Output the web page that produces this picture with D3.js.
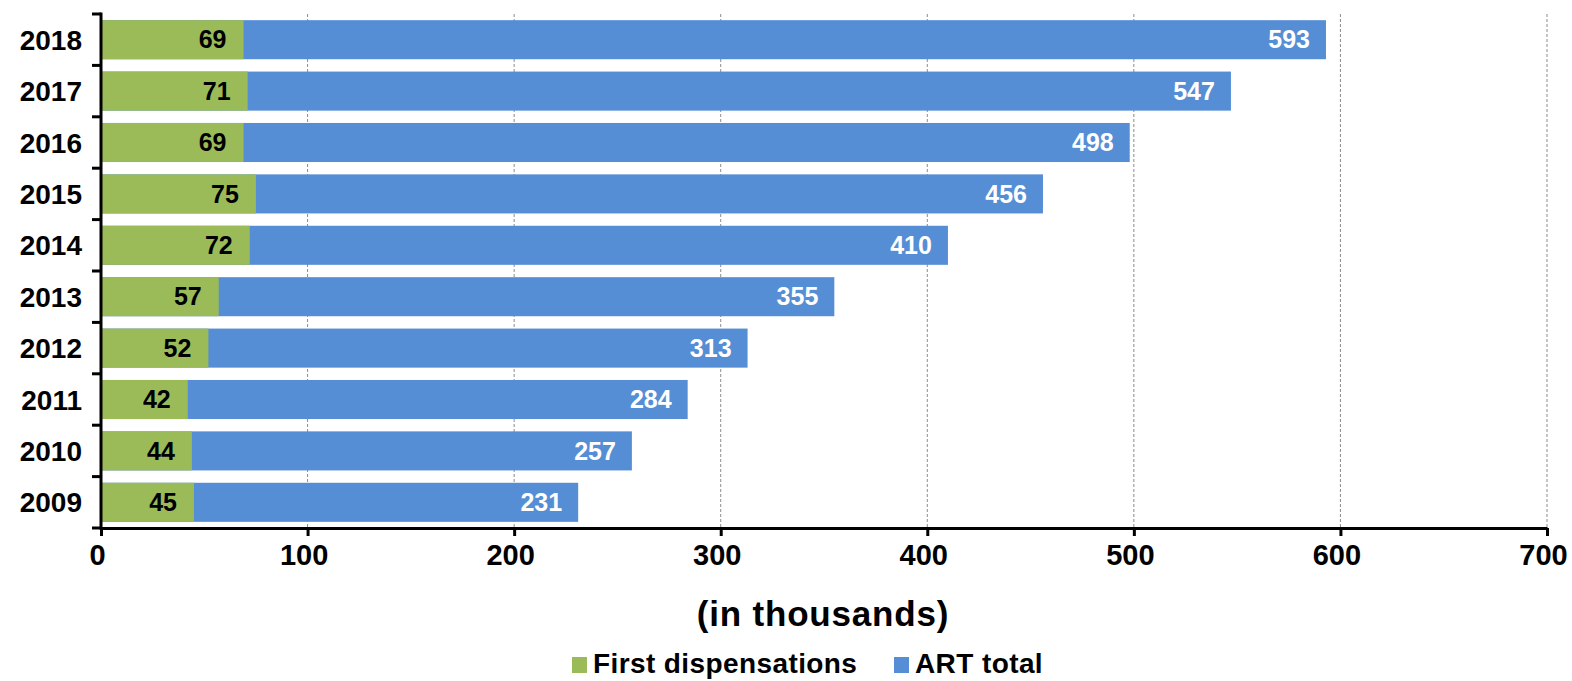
<!DOCTYPE html>
<html>
<head>
<meta charset="utf-8">
<script src="https://cdn.jsdelivr.net/npm/d3@7"></script>
<style>
  html, body { margin: 0; padding: 0; background: #fff; }
  svg { display: block; font-family: "Liberation Sans", Arial, sans-serif; font-weight: bold; }
</style>
</head>
<body>
<svg id="chart" width="1572" height="681"></svg>
<script>
// Antiretroviral therapy dispensations per year (thousands)
const years = ["2018", "2017", "2016", "2015", "2014", "2013", "2012", "2011", "2010", "2009"];
const firstDispensations = [69, 71, 69, 75, 72, 57, 52, 42, 44, 45];
const artTotal = [593, 547, 498, 456, 410, 355, 313, 284, 257, 231];
const xTicks = [0, 100, 200, 300, 400, 500, 600, 700];
const seriesNames = ["First dispensations", "ART total"];
const colors = { first: "#9BBB59", total: "#558ED5" };

const svg = d3.select("#chart");
const plotLeft = 101, plotRight = 1547, plotTop = 14, plotBottom = 528;

const x = d3.scaleLinear().domain([0, 700]).range([plotLeft, plotRight]);
const y = d3.scaleBand().domain(years).range([plotTop, plotBottom]).paddingInner(0.24).paddingOuter(0.12);
const yEdges = d3.scaleBand().domain(years).range([plotTop, plotBottom]);

// dashed vertical gridlines
svg.append("g")
  .selectAll("line")
  .data(xTicks.filter(d => d > 0))
  .join("line")
  .attr("x1", d => x(d)).attr("x2", d => x(d))
  .attr("y1", plotTop).attr("y2", plotBottom)
  .attr("stroke", "#8c8c8c")
  .attr("stroke-width", 1)
  .attr("stroke-dasharray", "3,2");

const rows = years.map((yr, i) => ({ yr, first: firstDispensations[i], total: artTotal[i] }));

// total bars, with first dispensations overlaid from zero
svg.append("g").selectAll("rect")
  .data(rows).join("rect")
  .attr("x", x(0)).attr("y", d => y(d.yr))
  .attr("width", d => x(d.total) - x(0))
  .attr("height", y.bandwidth())
  .attr("fill", colors.total);

svg.append("g").selectAll("rect")
  .data(rows).join("rect")
  .attr("x", x(0)).attr("y", d => y(d.yr))
  .attr("width", d => x(d.first) - x(0))
  .attr("height", y.bandwidth())
  .attr("fill", colors.first);

// value labels
svg.append("g").selectAll("text")
  .data(rows).join("text")
  .attr("x", d => x(d.total) - 16)
  .attr("y", d => y(d.yr) + y.bandwidth() / 2)
  .attr("dy", "0.35em")
  .attr("text-anchor", "end")
  .attr("fill", "#fff")
  .attr("font-size", 25)
  .text(d => d.total);

svg.append("g").selectAll("text")
  .data(rows).join("text")
  .attr("x", d => x(d.first) - 17)
  .attr("y", d => y(d.yr) + y.bandwidth() / 2)
  .attr("dy", "0.35em")
  .attr("text-anchor", "end")
  .attr("fill", "#000")
  .attr("font-size", 25)
  .text(d => d.first);

// y axis: line, boundary ticks, year labels
const yAxis = svg.append("g");
yAxis.append("line")
  .attr("x1", plotLeft).attr("x2", plotLeft)
  .attr("y1", plotTop - 1.5).attr("y2", plotBottom + 1.5)
  .attr("stroke", "#000").attr("stroke-width", 3);
const edges = years.map(yr => yEdges(yr)).concat([plotBottom]);
yAxis.selectAll("line.tick")
  .data(edges).join("line")
  .attr("class", "tick")
  .attr("x1", plotLeft - 9).attr("x2", plotLeft)
  .attr("y1", d => d).attr("y2", d => d)
  .attr("stroke", "#000").attr("stroke-width", 3);
yAxis.selectAll("text")
  .data(years).join("text")
  .attr("x", 82)
  .attr("y", d => yEdges(d) + yEdges.bandwidth() / 2)
  .attr("dy", "0.36em")
  .attr("text-anchor", "end")
  .attr("font-size", 28)
  .attr("fill", "#000")
  .text(d => d);

// x axis
const xAxis = svg.append("g").attr("transform", `translate(0,${plotBottom})`)
  .call(d3.axisBottom(x).tickValues(xTicks).tickSize(8).tickPadding(8).tickSizeOuter(0));
xAxis.select(".domain").attr("stroke", "#000").attr("stroke-width", 3);
xAxis.selectAll(".tick line").attr("stroke", "#000").attr("stroke-width", 3);
xAxis.selectAll(".tick text")
  .attr("font-family", "Liberation Sans, Arial, sans-serif")
  .attr("font-weight", "bold")
  .attr("font-size", 29)
  .attr("fill", "#000")
  .attr("dx", "-4");

// axis title
svg.append("text")
  .attr("x", 823).attr("y", 626)
  .attr("text-anchor", "middle")
  .attr("font-size", 35)
  .attr("letter-spacing", 0.8)
  .attr("fill", "#000")
  .text("(in thousands)");

// legend
const legendItems = [
  { name: seriesNames[0], color: colors.first, x: 572 },
  { name: seriesNames[1], color: colors.total, x: 894 }
];
const legend = svg.append("g").selectAll("g").data(legendItems).join("g");
legend.append("rect")
  .attr("x", d => d.x).attr("y", 657)
  .attr("width", 15).attr("height", 16)
  .attr("fill", d => d.color);
legend.append("text")
  .attr("x", d => d.x + 21).attr("y", 673)
  .attr("font-size", 28)
  .attr("letter-spacing", 0.4)
  .attr("fill", "#000")
  .text(d => d.name);
</script>
</body>
</html>
